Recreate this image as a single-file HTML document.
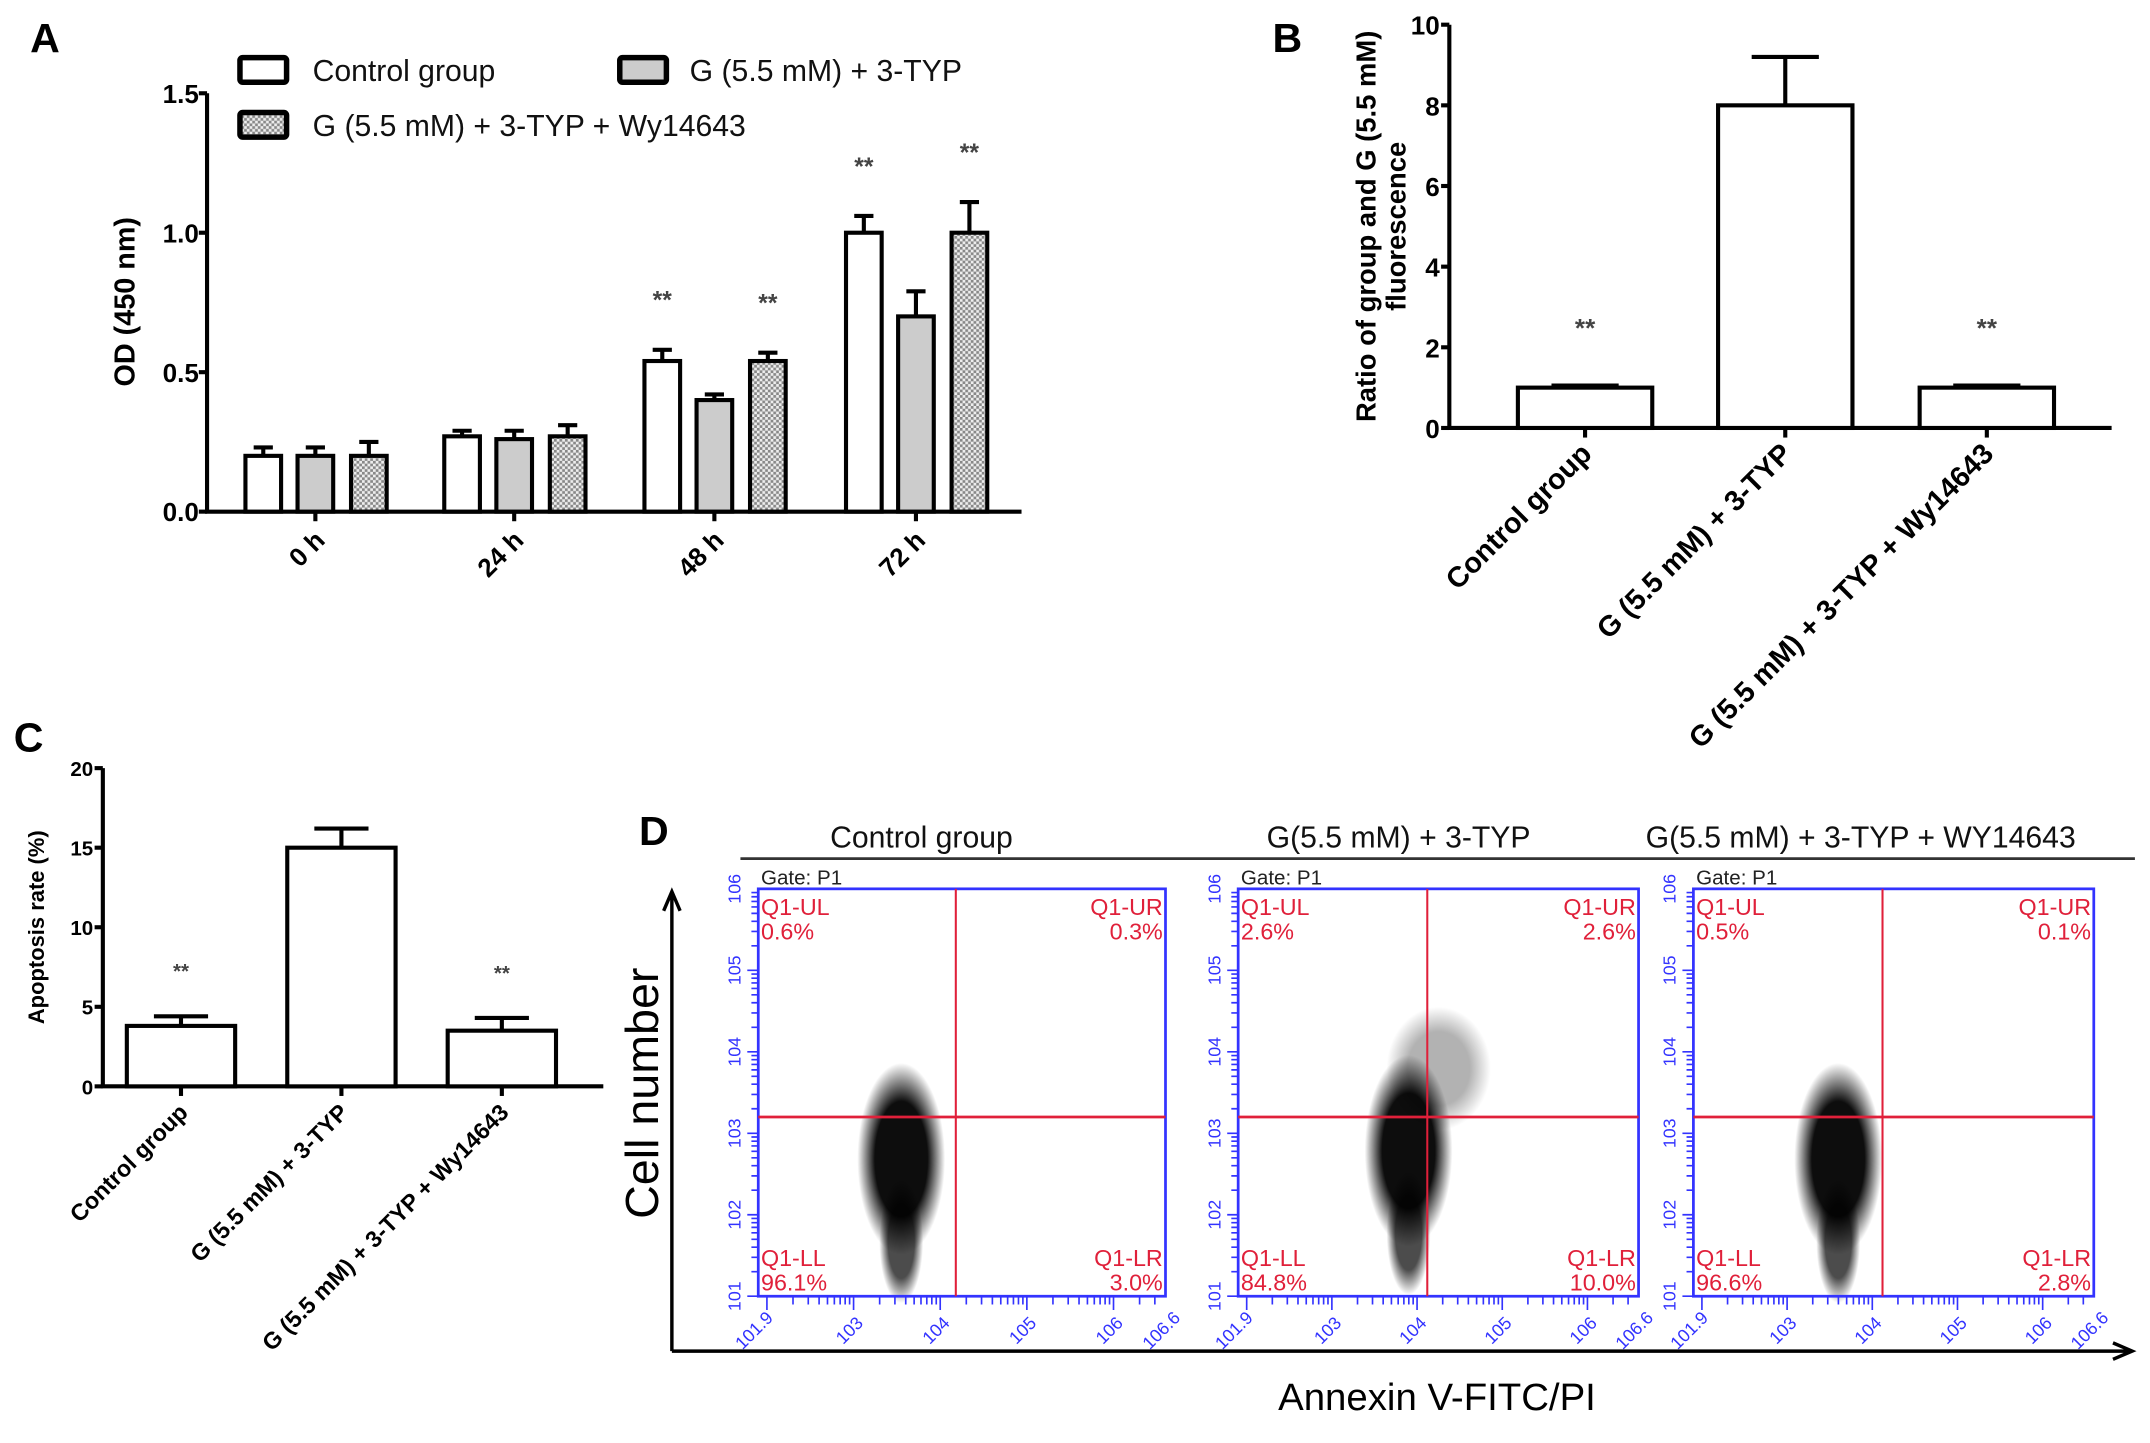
<!DOCTYPE html>
<html><head><meta charset="utf-8"><style>
html,body{margin:0;padding:0;background:#fff;width:2150px;height:1443px;overflow:hidden}
svg{display:block;font-family:"Liberation Sans",Arial,sans-serif}
</style></head><body>
<svg id="fig" width="2150" height="1443" viewBox="0 0 1568 1052" preserveAspectRatio="none" xmlns="http://www.w3.org/2000/svg">
<defs>
<pattern id="dots" width="4" height="4" patternUnits="userSpaceOnUse"><rect width="4" height="4" fill="#eee"/><rect width="2" height="2" fill="#888"/><rect x="2" y="2" width="2" height="2" fill="#888"/></pattern>
<radialGradient id="blob"><stop offset="0" stop-color="#000"/><stop offset="0.6" stop-color="#000"/><stop offset="1" stop-color="#000" stop-opacity="0"/></radialGradient>
</defs>
<g id="root"></g>
</svg>
<script>
// ---------- Panel A data ----------
const aCategories = ["0 h","24 h","48 h","72 h"];
const aSeriesNames = ["Control group","G (5.5 mM) + 3-TYP","G (5.5 mM) + 3-TYP + Wy14643"];
const aControl = [0.20,0.27,0.54,1.00];
const aTyp = [0.20,0.26,0.40,0.70];
const aWy = [0.20,0.27,0.54,1.00];
const aControlErr = [0.03,0.02,0.04,0.06];
const aTypErr = [0.03,0.03,0.02,0.09];
const aWyErr = [0.05,0.04,0.03,0.11];
const aStars = [[0,0,0],[0,0,0],[1,0,1],[1,0,1]];
const aTicks = [0,0.5,1.0,1.5];
// ---------- Panel B data ----------
const bCategories = ["Control group","G (5.5 mM) + 3-TYP","G (5.5 mM) + 3-TYP + Wy14643"];
const bValues = [1.0,8.0,1.0];
const bErr = [0.05,1.2,0.05];
const bStars = [1,0,1];
const bTicks = [0,2,4,6,8,10];
// ---------- Panel C data ----------
const cCategories = ["Control group","G (5.5 mM) + 3-TYP","G (5.5 mM) + 3-TYP + Wy14643"];
const cValues = [3.8,15.0,3.5];
const cErr = [0.6,1.2,0.8];
const cStars = [1,0,1];
const cTicks = [0,5,10,15,20];
// ---------- Panel D data ----------
const dTitles = ["Control group","G(5.5 mM) + 3-TYP","G(5.5 mM) + 3-TYP + WY14643"];
const dUL = ["0.6%","2.6%","0.5%"];
const dUR = ["0.3%","2.6%","0.1%"];
const dLL = ["96.1%","84.8%","96.6%"];
const dLR = ["3.0%","10.0%","2.8%"];
const dClusterX = [3.55,3.9,3.6];
const dClusterY = [2.6,2.7,2.6];
const dGateX = [4.18,4.12,4.12];
const dGateY = [3.2,3.2,3.2];
const dXTicks = ["1.9","3","4","5","6","6.6"];
const dYTicks = ["1","2","3","4","5","6"];

const NS="http://www.w3.org/2000/svg";
const root=document.getElementById('root');
function el(tag,attrs,parent,text){const e=document.createElementNS(NS,tag);for(const k in attrs)e.setAttribute(k,attrs[k]);if(text!==undefined)e.textContent=text;(parent||root).appendChild(e);return e;}
function grp(name){const g=el('g',{});return g;}

// ===== Panel A =====
(function(){
const g=grp('panel-a');
const x0=151,x1=745,y0=373,yTop=68,max=1.5;
const y=v=>y0-(v/max)*(y0-yTop);
const centers=[230,375,521,668], off=[-38,0,39], bw=26;
const t=el('text',{x:22,y:38,'font-size':30,'font-weight':'bold'},g,'A');
const leg=[[175,51,'#fff',aSeriesNames[0],228],[452,51,'#ccc',aSeriesNames[1],503],[175,91,'url(#dots)',aSeriesNames[2],228]];
leg.forEach((l,i)=>{const lg=el('g',{},g);
el('rect',{x:l[0],y:l[1]-9,width:34,height:18,fill:l[2],stroke:'#000','stroke-width':4,rx:2},lg);
el('text',{x:l[4],y:l[1]+8,'font-size':22,fill:'#111'},lg,l[3]);});
const ax=el('path',{d:`M${x0} ${yTop}V${y0}H${x1}`,stroke:'#000','stroke-width':3,fill:'none'},g);
aTicks.forEach(v=>{el('line',{x1:x0-6,x2:x0,y1:y(v),y2:y(v),stroke:'#000','stroke-width':3},g);
const tl=el('text',{x:x0-6,y:y(v)+7,'font-size':19,'font-weight':'bold','text-anchor':'end'},g,v.toFixed(1));});
const yt=el('text',{transform:`translate(98 220) rotate(-90)`,'font-size':21,'font-weight':'bold','text-anchor':'middle'},g,'OD (450 nm)');
const series=[aControl,aTyp,aWy],errs=[aControlErr,aTypErr,aWyErr],fills=['#fff','#ccc','url(#dots)'];
aCategories.forEach((c,i)=>{
 el('line',{x1:centers[i],x2:centers[i],y1:y0,y2:y0+7,stroke:'#000','stroke-width':3},g);
 const xl=el('text',{transform:`translate(${centers[i]+8} ${y0+22}) rotate(-45)`,'font-size':19,'font-weight':'bold','text-anchor':'end'},g,c);
 series.forEach((s,j)=>{const bx=centers[i]+off[j]-bw/2;const top=y(s[i]);const et=y(s[i]+errs[j][i]);
  el('line',{x1:bx+bw/2,x2:bx+bw/2,y1:top,y2:et,stroke:'#000','stroke-width':3},g);
  el('line',{x1:bx+bw/2-7,x2:bx+bw/2+7,y1:et,y2:et,stroke:'#000','stroke-width':3},g);
  const r=el('rect',{x:bx,y:top,width:bw,height:y0-top,fill:fills[j],stroke:'#000','stroke-width':3},g);
  if(aStars[i][j]){const st=el('text',{x:bx+bw/2,y:et-30,'font-size':18,'text-anchor':'middle',fill:'#444','font-weight':'bold'},g,'**');}
 });
});
})();

function simpleBar(name,label,lx,ly,x0,x1,y0,yTop,max,ticks,cats,vals,errs,stars,centers,bw,title,titleX,fs,labelFs){
const g=grp(name);
const y=v=>y0-(v/max)*(y0-yTop);
const t=el('text',{x:lx,y:ly,'font-size':30,'font-weight':'bold'},g,label);
el('path',{d:`M${x0} ${yTop}V${y0}H${x1}`,stroke:'#000','stroke-width':3,fill:'none'},g);
ticks.forEach(v=>{el('line',{x1:x0-6,x2:x0,y1:y(v),y2:y(v),stroke:'#000','stroke-width':3},g);
const tl=el('text',{x:x0-7,y:y(v)+fs/2.6,'font-size':fs,'font-weight':'bold','text-anchor':'end'},g,String(v));});
const tt=el('text',{transform:`translate(${titleX} ${(y0+yTop)/2}) rotate(-90)`,'font-size':fs+1,'font-weight':'bold','text-anchor':'middle'},g);
title.forEach((ln,i)=>{el('tspan',{x:0,dy:i?fs+3:0},tt,ln);});
cats.forEach((c,i)=>{const cx=centers[i];const top=y(vals[i]),et=y(vals[i]+errs[i]);
 el('line',{x1:cx,x2:cx,y1:y0,y2:y0+7,stroke:'#000','stroke-width':3},g);
 el('line',{x1:cx,x2:cx,y1:top,y2:et,stroke:'#000','stroke-width':3},g);
 el('line',{x1:cx-bw*0.25,x2:cx+bw*0.25,y1:et,y2:et,stroke:'#000','stroke-width':3},g);
 const r=el('rect',{x:cx-bw/2,y:top,width:bw,height:y0-top,fill:'#fff',stroke:'#000','stroke-width':3},g);
 if(stars[i]){const st=el('text',{x:cx,y:et-(y0-yTop)*0.12,'font-size':fs,'text-anchor':'middle',fill:'#444','font-weight':'bold'},g,'**');}
 const xl=el('text',{transform:`translate(${cx+6} ${y0+20}) rotate(-45)`,'font-size':labelFs,'font-weight':'bold','text-anchor':'end'},g,c);
});
}
simpleBar('panel-b','B',928,38,1057,1540,312,18,10,bTicks,bCategories,bValues,bErr,bStars,[1156,1302,1449],98,['Ratio of group and G (5.5 mM)','fluorescence'],1003,19,21);
simpleBar('panel-c','C',10,548,75,440,792,560,20,cTicks,cCategories,cValues,cErr,cStars,[132,249,366],79,['Apoptosis rate (%)'],32,15,17);

(function(){
const g=grp('panel-d');
const t=el('text',{x:466,y:616,'font-size':30,'font-weight':'bold'},g,'D');
el('line',{x1:540,x2:1557,y1:626,y2:626,stroke:'#333','stroke-width':2},g);
const titleX=[672,1020,1357];
dTitles.forEach((s,i)=>{const tt=el('text',{x:titleX[i],y:618,'font-size':22,'text-anchor':'middle',fill:'#111'},g,s);});
const boxes=[[553,850],[903,1195],[1235,1527]],yb=648,yB=945;
boxes.forEach((b,i)=>{
 const pg=el('g',{},g);
 const X=v=>b[0]+(v-1.9)/4.7*(b[1]-b[0]);const Y=v=>yB-(v-1)/5*(yB-yb);
 el('text',{x:b[0]+2,y:yb-3,'font-size':15,fill:'#222'},pg,'Gate: P1');
 const cx=X(dClusterX[i]),cy=Y(dClusterY[i]);
 el('ellipse',{cx:cx,cy:cy-5,rx:32,ry:70,fill:'url(#blob)',opacity:0.95},pg);
 el('ellipse',{cx:cx,cy:cy+55,rx:16,ry:45,fill:'url(#blob)',opacity:0.7},pg);
 if(i===1){el('ellipse',{cx:cx+22,cy:cy-65,rx:38,ry:45,fill:'url(#blob)',opacity:0.3},pg);}
 el('rect',{x:b[0],y:yb,width:b[1]-b[0],height:yB-yb,fill:'none',stroke:'#33f','stroke-width':2},pg);
 const gx=X(dGateX[i]),gy=Y(dGateY[i]);
 el('line',{x1:gx,x2:gx,y1:yb,y2:yB,stroke:'#e0203a','stroke-width':1.5},pg);
 el('line',{x1:b[0],x2:b[1],y1:gy,y2:gy,stroke:'#e0203a','stroke-width':2},pg);
 const q=(x,y,a,s1,s2)=>{el('text',{x:x,y:y,'font-size':17,fill:'#e0203a','text-anchor':a},pg,s1);el('text',{x:x,y:y+18,'font-size':17,fill:'#e0203a','text-anchor':a},pg,s2);};
 q(b[0]+2,yb+19,'start','Q1-UL',dUL[i]);q(b[1]-2,yb+19,'end','Q1-UR',dUR[i]);
 q(b[0]+2,yB-22,'start','Q1-LL',dLL[i]);q(b[1]-2,yB-22,'end','Q1-LR',dLR[i]);
 let d='';
 for(let k=1;k<6;k++){for(let m=1;m<10;m++){const v=k+Math.log10(m);const yy=Y(v);d+=`M${b[0]-(m===1?8:5)} ${yy}H${b[0]}`;}}
 for(let k=2;k<7;k++){for(let m=1;m<10;m++){const v=k+Math.log10(m);if(v<1.9||v>6.6)continue;const xx=X(v);d+=`M${xx} ${yB}V${yB+(m===1?10:6)}`;}}
 el('path',{d:d,stroke:'#33f','stroke-width':1.2,fill:'none'},pg);
 dYTicks.forEach(s=>{const yy=Y(+s);el('text',{transform:`translate(${b[0]-13} ${yy}) rotate(-90)`,'font-size':13,fill:'#33f','text-anchor':'middle'},pg,'10'+s);});
 dXTicks.forEach(s=>{const xx=X(+s);el('text',{transform:`translate(${xx} ${yB+28}) rotate(-45)`,'font-size':13,fill:'#33f','text-anchor':'middle'},pg,'10'+s);});
});
const ar=el('path',{d:'M490 985V652M484 664L490 650L496 664M490 985H1553M1541 979L1555 985L1541 991',stroke:'#000','stroke-width':2.5,fill:'none'},g);
const cn=el('text',{transform:'translate(480 797) rotate(-90)','font-size':34,'text-anchor':'middle'},g,'Cell number');
const an=el('text',{x:1048,y:1028,'font-size':28,'text-anchor':'middle'},g,'Annexin V-FITC/PI');
})();
</script>
</body></html>
